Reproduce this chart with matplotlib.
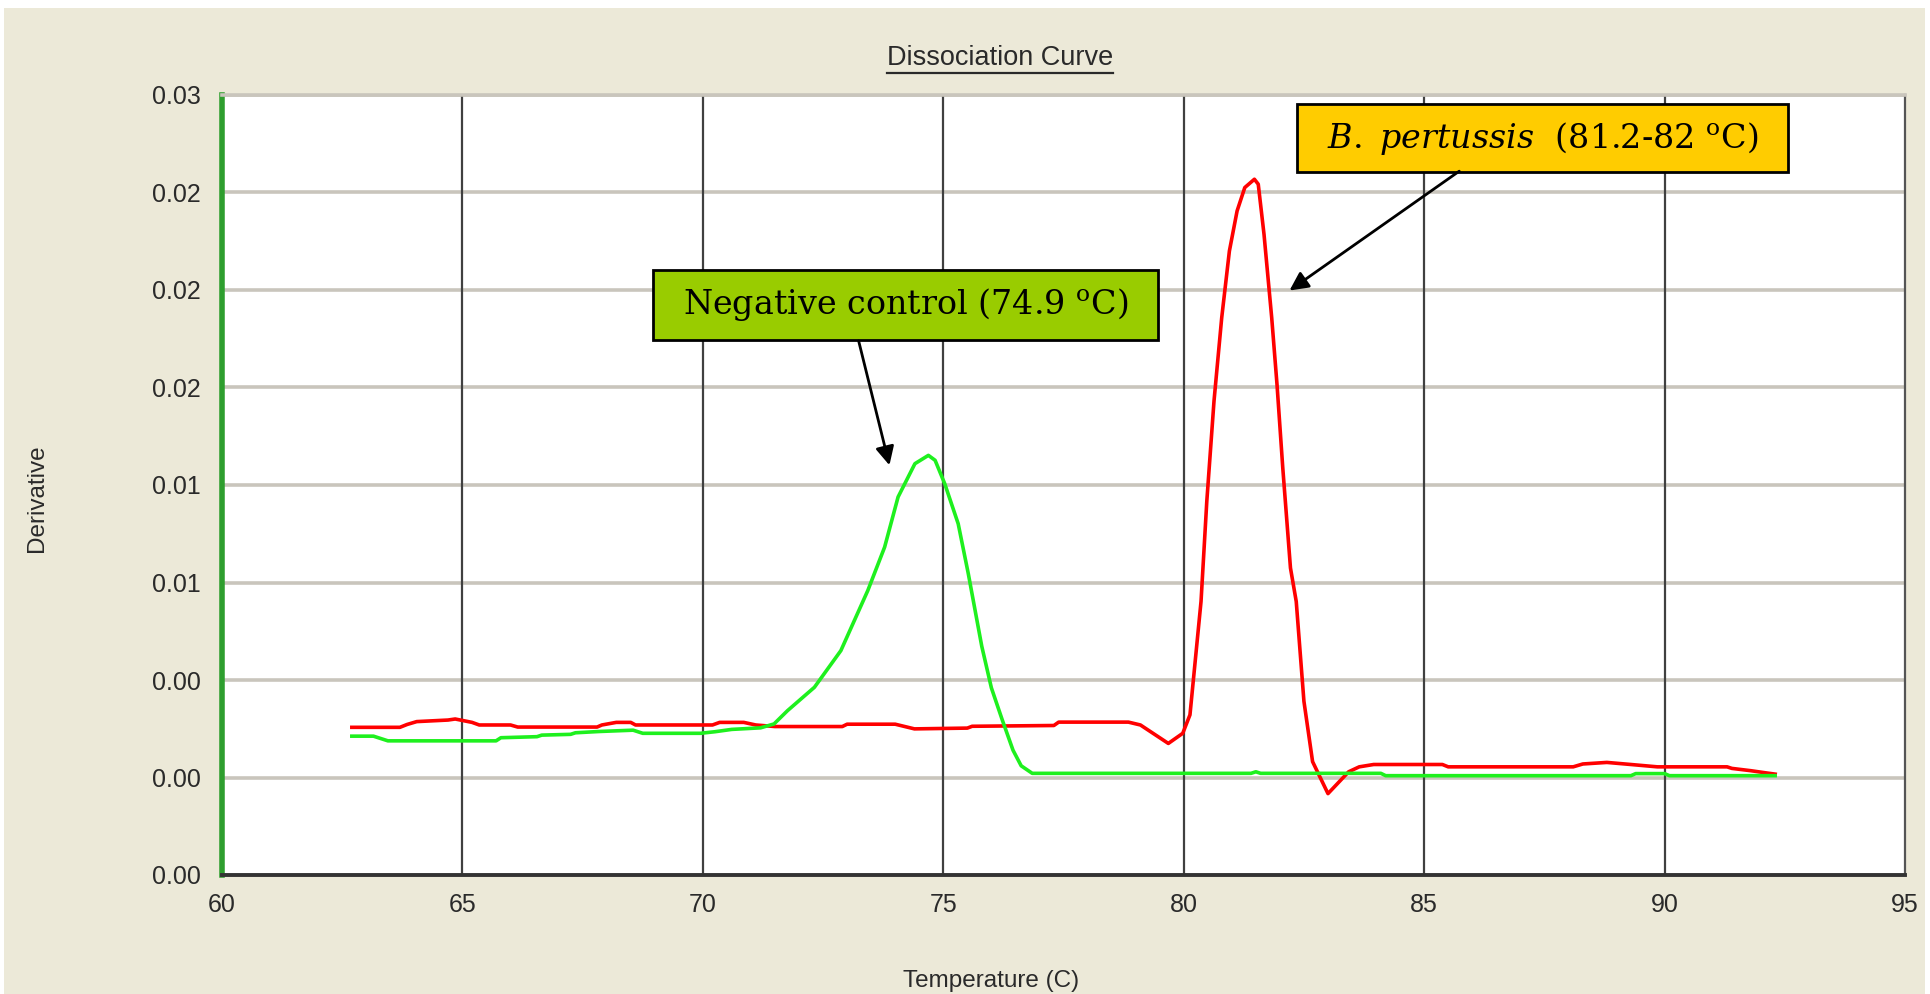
import matplotlib
matplotlib.use("Agg")
import matplotlib.pyplot as plt
from matplotlib.patches import Rectangle
from matplotlib.lines import Line2D

# ---------------- data ----------------
red_x = [62.7, 63.7, 63.85, 64.05, 64.7, 64.85, 65.2, 65.35, 66.0, 66.15, 67.8, 67.9,
         68.2, 68.5, 68.6, 70.2, 70.35, 70.85, 71.1, 71.5, 72.9, 73.0, 74.0, 74.4,
         75.5, 75.6, 77.3, 77.4, 78.85, 79.1, 79.68, 79.98, 80.13, 80.36, 80.48, 80.63,
         80.79, 80.95, 81.11, 81.27, 81.47, 81.55, 81.67, 81.83, 81.94, 82.06, 82.22,
         82.34, 82.5, 82.68, 83.0, 83.43, 83.65, 83.95, 85.38, 85.5, 88.1, 88.3, 88.8,
         89.3, 89.85, 91.3, 91.4, 91.8, 92.1, 92.3]
red_y = [0.00568, 0.00568, 0.00579, 0.0059, 0.00596, 0.0060, 0.00587, 0.00577, 0.00577,
         0.00569, 0.00569, 0.00577, 0.00587, 0.00587, 0.00577, 0.00577, 0.00587, 0.00587,
         0.00577, 0.00571, 0.00571, 0.0058, 0.0058, 0.00562, 0.00565, 0.00572, 0.00575,
         0.00588, 0.00588, 0.00577, 0.00506, 0.00545, 0.00616, 0.01052, 0.01437, 0.01823,
         0.02143, 0.0240, 0.02554, 0.02644, 0.02676, 0.02657, 0.02464, 0.02143, 0.01887,
         0.01566, 0.01181, 0.01052, 0.00668, 0.00436, 0.00313, 0.00397, 0.00416, 0.00425,
         0.00425, 0.00416, 0.00416, 0.00427, 0.00433, 0.00425, 0.00416, 0.00416, 0.0041,
         0.00401, 0.00393, 0.00388]

green_x = [62.7, 63.15, 63.45, 65.7, 65.8, 66.55, 66.65, 67.25, 67.35, 67.85, 68.55, 68.75,
           69.95, 70.25, 70.6, 71.2, 71.48, 71.76, 72.32, 72.87, 73.43, 73.78, 74.06, 74.41,
           74.69, 74.83, 75.03, 75.31, 75.52, 75.8, 76.0, 76.22, 76.45, 76.62, 76.85, 81.4,
           81.5, 81.6, 84.1, 84.2, 89.3, 89.4, 90.0, 90.1, 92.3]
green_y = [0.00534, 0.00534, 0.00516, 0.00516, 0.00528, 0.00532, 0.00538, 0.00541, 0.00547,
           0.00552, 0.00557, 0.00545, 0.00545, 0.00551, 0.0056, 0.00566, 0.00581, 0.00632,
           0.00722, 0.00863, 0.01094, 0.01261, 0.01454, 0.01582, 0.01614, 0.01595, 0.01505,
           0.01351, 0.01159, 0.0088, 0.0072, 0.0060, 0.0048, 0.0042, 0.00391, 0.00391,
           0.00397, 0.00391, 0.00391, 0.00382, 0.00382, 0.0039, 0.0039, 0.00382, 0.00382]

x_ticks = [60, 65, 70, 75, 80, 85, 90, 95]
y_ticks = [0.0, 0.00375, 0.0075, 0.01125, 0.015, 0.01875, 0.0225, 0.02625, 0.03]
y_tick_labels = ["0.00", "0.00", "0.00", "0.01", "0.01", "0.02", "0.02", "0.02", "0.03"]

title = "Dissociation Curve"
x_label = "Temperature (C)"
y_label = "Derivative"
neg_label = r"Negative control (74.9 $^{\mathrm{o}}$C)"
pos_label = r"$\mathit{B.\ pertussis}$  (81.2-82 $^{\mathrm{o}}$C)"

# ---------------- style ----------------
plt.rcParams['mathtext.fontset'] = 'dejavuserif'
BEIGE = '#ECE9D8'
TXT = '#2a2a2a'
SANS = ['Liberation Sans', 'DejaVu Sans']

fig = plt.figure(figsize=(19.3, 9.94), dpi=100)
fig.patch.set_facecolor('white')
fig.patches.append(Rectangle((4 / 1930, 0), 1921 / 1930, 986 / 994,
                             transform=fig.transFigure, facecolor=BEIGE,
                             edgecolor='none', zorder=-10))

ax = fig.add_axes([222 / 1930, 1 - 875 / 994, (1905 - 222) / 1930, (875 - 95) / 994])
ax.set_facecolor('white')
ax.set_xlim(60, 95)
ax.set_ylim(0, 0.03)

# grid
for yt in y_ticks[1:]:
    ax.axhline(yt, color='#C9C5BC', lw=2.6, zorder=1)
for xt in x_ticks[1:-1]:
    ax.axvline(xt, color='#404040', lw=1.6, zorder=1)

ax.plot(red_x, red_y, color='#FF0000', lw=2.6, zorder=3, solid_joinstyle='round')
ax.plot(green_x, green_y, color='#1EF01E', lw=2.6, zorder=4, solid_joinstyle='round')

for s in ax.spines.values():
    s.set_zorder(5)
ax.spines['left'].set_color('#2E9E2E')
ax.spines['left'].set_linewidth(4)
ax.spines['bottom'].set_color('#333333')
ax.spines['bottom'].set_linewidth(2.8)
ax.spines['top'].set_color('#C9C5BC')
ax.spines['top'].set_linewidth(2.6)
ax.spines['right'].set_color('#555555')
ax.spines['right'].set_linewidth(1.6)

ax.set_xticks(x_ticks)
ax.set_xticklabels([str(v) for v in x_ticks])
ax.set_yticks(y_ticks)
ax.set_yticklabels(y_tick_labels)
ax.tick_params(axis='both', length=0, labelsize=18, labelcolor=TXT)
ax.tick_params(axis='y', pad=15)
ax.tick_params(axis='x', pad=13)
for lab in ax.get_xticklabels() + ax.get_yticklabels():
    lab.set_family(SANS)

fig.text(37 / 1930, 1 - 498 / 994, y_label, rotation=90, ha='center', va='center',
         fontsize=17.5, color=TXT, family=SANS)
fig.text(991 / 1930, 1 - 981 / 994, x_label, ha='center', va='center',
         fontsize=17.5, color=TXT, family=SANS)
t = fig.text(1000 / 1930, 1 - 58 / 994, title, ha='center', va='center',
             fontsize=19.5, color=TXT, family=SANS)

# annotation boxes
ax.add_patch(Rectangle((68.96, 0.02058), 79.46 - 68.96, 0.02328 - 0.02058,
                       facecolor='#99CC00', edgecolor='black', lw=2, zorder=6, clip_on=False))
ax.text((68.96 + 79.46) / 2, (0.02058 + 0.02328) / 2, neg_label, ha='center', va='center',
        fontsize=24, family='DejaVu Serif', color='black', zorder=7)
ax.add_patch(Rectangle((82.35, 0.02702), 92.57 - 82.35, 0.02967 - 0.02702,
                       facecolor='#FFCC00', edgecolor='black', lw=2, zorder=6, clip_on=False))
ax.text((82.35 + 92.57) / 2, (0.02702 + 0.02967) / 2, pos_label, ha='center', va='center',
        fontsize=24, family='DejaVu Serif', color='black', zorder=7)

ax.annotate('', xy=(73.88, 0.01576), xytext=(73.24, 0.02054),
            arrowprops=dict(arrowstyle='-|>', color='black', lw=2, mutation_scale=28,
                            shrinkA=0, shrinkB=0), zorder=7)
ax.annotate('', xy=(82.20, 0.02248), xytext=(85.73, 0.02707),
            arrowprops=dict(arrowstyle='-|>', color='black', lw=2, mutation_scale=28,
                            shrinkA=0, shrinkB=0), zorder=7)

# underline title
fig.canvas.draw()
bb = t.get_window_extent().transformed(fig.transFigure.inverted())
fig.add_artist(Line2D([bb.x0, bb.x1], [bb.y0 - 0.002, bb.y0 - 0.002],
                      transform=fig.transFigure, color=TXT, lw=1.6))

fig.savefig('out.png', dpi=100, facecolor=fig.get_facecolor())
